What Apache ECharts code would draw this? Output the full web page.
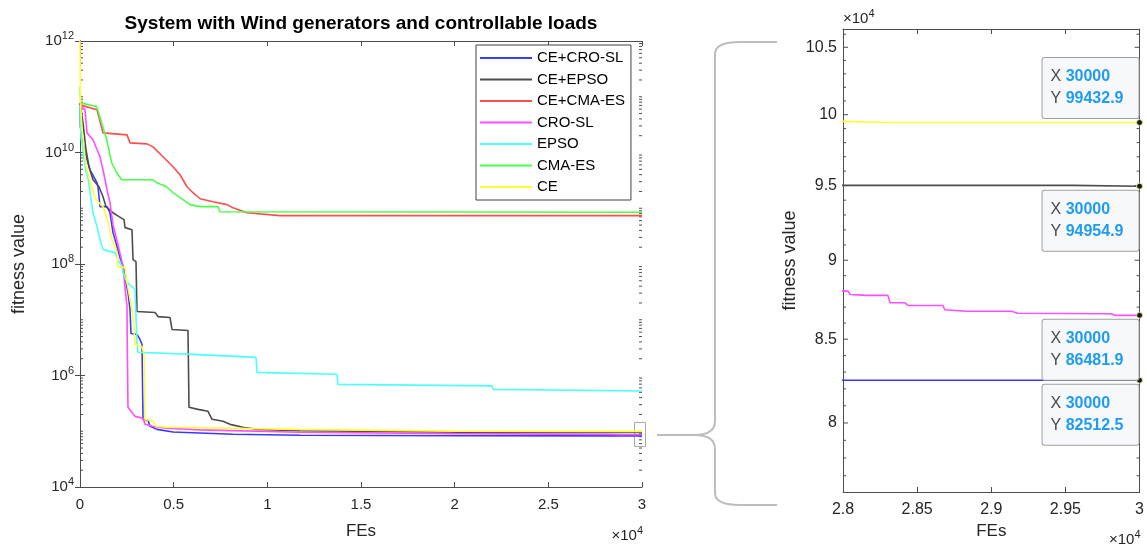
<!DOCTYPE html>
<html><head><meta charset="utf-8">
<script src="https://cdn.jsdelivr.net/npm/echarts@6/dist/echarts.min.js"></script>
<style>html,body{margin:0;padding:0;background:#fff}#c{width:1147px;height:545px}</style>
</head><body><div id="c"></div>
<script>
// ---------- data ----------
const seriesNames = ['CE+CRO-SL','CE+EPSO','CE+CMA-ES','CRO-SL','EPSO','CMA-ES','CE'];
const seriesColors = ['#3a3aff','#4d4d4d','#ff4d4d','#ff4dff','#4dffff','#4dff4d','#ffff33'];

const ceCroSl = [[0,7.5e10],[20,2.88e10],[267,9.9e9],[534,4.9e9],[907,2.87e9],[961,2.43e9],[1068,1.07e9],[1441,1.07e9],[1601,8.3e8],[1762,3.65e8],[1975,2.05e8],[2135,1.3e8],[2402,7.31e7],[2455,4.65e7],[2562,3.08e7],[2669,1.53e7],[2722,5.68e6],[3043,5.45e6],[3203,4.43e6],[3310,3.6e6],[3363,1.64e5],[3630,1.57e5],[3737,1.23e5],[4110,1.08e5],[4964,9.7e4],[8167,8.81e4],[11744,8.47e4],[20000,8.3e4],[28000,82512.5],[30000,82512.5]];
const ceEpso = [[0,7.76e10],[160,3.4e10],[320,1.12e10],[480,5.55e9],[694,3.24e9],[1014,2.43e9],[1228,1.61e9],[1388,1.07e9],[1762,8.3e8],[2082,7.06e8],[2349,6.24e8],[2402,4.49e8],[2776,4.13e8],[2829,1.2e8],[2989,1.1e8],[3043,1.41e7],[4004,1.35e7],[4164,1.14e7],[4804,1.1e7],[4911,6.7e6],[5765,6.4e6],[5818,2.69e5],[6299,2.47e5],[6833,2.28e5],[7046,1.64e5],[7633,1.51e5],[8007,1.33e5],[8701,1.18e5],[9448,1.08e5],[11744,1.02e5],[20000,96500],[28000,95010],[29550,95010],[29560,94954.9],[30000,94954.9]];
const ceCmaEs = [[0,7.15e10],[907,5.82e10],[1228,2.25e10],[2509,2.07e10],[2669,1.49e10],[3577,1.43e10],[3897,1.26e10],[4430,8.4e9],[4964,5.55e9],[5338,3.99e9],[5712,2.43e9],[6032,1.9e9],[6406,1.48e9],[7100,1.31e9],[7847,1.16e9],[8167,1.02e9],[8914,8.3e8],[10676,7.36e8],[30000,7.36e8]];
const croSl = [[0,7.15e10],[267,5.82e10],[374,2.25e10],[694,1.69e10],[1068,8.37e9],[1228,4.9e9],[1441,2.15e9],[1601,1.26e9],[1762,5.07e8],[2028,2.22e8],[2189,1.3e8],[2295,8.98e7],[2402,3.78e7],[2509,1.73e7],[2520,4.43e6],[2562,2.69e5],[2776,2.18e5],[2936,1.85e5],[3363,1.71e5],[3470,1.33e5],[3843,1.23e5],[4644,1.13e5],[6406,1.06e5],[11744,9.6e4],[20000,9.05e4],[28000,88010],[28034,88010],[28047,87800],[28160,87740],[28303,87740],[28317,87270],[28418,87270],[28438,87100],[28673,87100],[28687,86830],[28833,86740],[29136,86740],[29178,86610],[29809,86580],[29832,86481.9],[30000,86481.9]];
const epso = [[0,7.15e10],[53,1.91e10],[160,1.03e10],[320,4.51e9],[427,3.52e9],[534,1.9e9],[694,8.3e8],[907,4.68e8],[1068,2.74e8],[1228,1.81e8],[1868,1.6e8],[2028,1.2e8],[2242,8.98e7],[2295,7.02e7],[2509,4.65e7],[2776,3.94e7],[2936,3.48e7],[3043,3.92e6],[3096,2.59e6],[3310,2.59e6],[6032,2.39e6],[8381,2.2e6],[9395,2.11e6],[9448,1.14e6],[13719,1.05e6],[13772,6.93e5],[21993,6.52e5],[22046,5.64e5],[30000,5.26e5]];
const cmaEs = [[0,1.5e11],[40,7.76e10],[891,6.67e10],[1158,3.4e10],[1425,1.69e10],[1692,6.55e9],[1959,4.33e9],[2226,3.24e9],[3897,3.24e9],[4094,2.87e9],[4628,2.43e9],[4964,1.9e9],[5872,1.16e9],[6406,1.07e9],[7366,1.07e9],[7473,8.67e8],[30000,8.5e8]];
const ce = [[0,1e12],[20,8.8e10],[107,2.5e10],[320,5.78e9],[587,2.54e9],[854,1.42e9],[1228,1.07e9],[1495,5.74e8],[1708,2.74e8],[1975,1.6e8],[2028,8.98e7],[2402,8.6e7],[2509,4.65e7],[2776,1.53e7],[2883,6.7e6],[2936,3.6e6],[3310,3.3e6],[3416,2.39e6],[3470,1.64e5],[3897,1.51e5],[4057,1.23e5],[4644,1.18e5],[11744,1.08e5],[20000,1.005e5],[28000,99520],[28300,99440],[30000,99432.9]];

const allSeries = [ceCroSl, ceEpso, ceCmaEs, croSl, epso, cmaEs, ce];

// zoomed panel: which series appear, and data tips
const zoomSeriesIdx = [0, 1, 3, 6];
const tipFEs = 30000;
const tipValues = {0: 82512.5, 1: 94954.9, 3: 86481.9, 6: 99432.9};
const tipSide = {0: 'bottom', 1: 'bottom', 3: 'bottom', 6: 'top'};

// axis ticks
const mainXTickStep = 5000;
const zoomXTickStep = 500;
const zoomYTicks = [80000, 85000, 90000, 95000, 100000, 105000];
const zoomYMin = 76100, zoomYMax = 106400;

// ---------- chart ----------
const FONT = 'Liberation Sans, Arial, Helvetica, sans-serif';
const AX = '#4d4d4d';
const TXT = '#262626';

const chart = echarts.init(document.getElementById('c'), null, {renderer: 'canvas'});

const baseX = (grid, min, max, step, pos, showLabel, fs) => ({
  type: 'value', gridIndex: grid, min: min, max: max, interval: step, position: pos,
  axisLine: {show: true, lineStyle: {color: AX, width: 1}},
  axisTick: {show: true, inside: true, length: 5, lineStyle: {color: AX}},
  splitLine: {show: false},
  axisLabel: {show: showLabel, color: TXT, fontSize: fs, fontFamily: FONT, margin: 10,
    formatter: v => String(v / 10000)}
});

const option = {
  animation: false,
  textStyle: {fontFamily: FONT},
  grid: [
    {left: 80, top: 41, width: 562, height: 447, containLabel: false},
    {left: 843, top: 29, width: 297, height: 463, containLabel: false}
  ],
  legend: {
    data: seriesNames.map(n => ({name: n, icon: 'rect'})), orient: 'vertical', left: 476, top: 45,
    itemWidth: 52, itemHeight: 2, itemGap: 5.5,
    padding: [5, 6, 5, 4],
    backgroundColor: '#fff', borderColor: '#404040', borderWidth: 1,
    textStyle: {fontSize: 15, lineHeight: 16, color: '#000', fontFamily: FONT},
    selectedMode: false
  },
  xAxis: [
    Object.assign(baseX(0, 0, 30000, mainXTickStep, 'bottom', true, 15), {
      name: 'FEs', nameLocation: 'middle', nameGap: 36,
      nameTextStyle: {fontSize: 17, color: TXT, fontFamily: FONT}}),
    baseX(0, 0, 30000, mainXTickStep, 'top', false, 15),
    Object.assign(baseX(1, 28000, 30000, zoomXTickStep, 'bottom', true, 16), {
      name: 'FEs', nameLocation: 'middle', nameGap: 30,
      nameTextStyle: {fontSize: 17, color: TXT, fontFamily: FONT}}),
    baseX(1, 28000, 30000, zoomXTickStep, 'top', false, 16)
  ],
  yAxis: [
    {type: 'log', logBase: 100, gridIndex: 0, min: 1e4, max: 1e12, position: 'left',
     name: 'fitness value', nameLocation: 'middle', nameGap: 52,
     nameTextStyle: {fontSize: 18, color: TXT, fontFamily: FONT},
     axisLine: {show: true, lineStyle: {color: AX}},
     axisTick: {show: true, inside: true, length: 5, lineStyle: {color: AX}},
     splitLine: {show: false},
     axisLabel: {show: true, margin: 6, color: TXT,
       formatter: v => '{b|10}{s|' + Math.round(Math.log10(v)) + '}',
       rich: {b: {fontSize: 15, color: TXT, fontFamily: FONT},
              s: {fontSize: 11, color: TXT, fontFamily: FONT, padding: [0, 0, 10, 0]}}}},
    {type: 'log', logBase: 100, gridIndex: 0, min: 1e4, max: 1e12, position: 'right',
     axisLine: {show: true, lineStyle: {color: AX}},
     axisTick: {show: true, inside: true, length: 5, lineStyle: {color: AX}},
     splitLine: {show: false}, axisLabel: {show: false}},
    {type: 'log', gridIndex: 1, min: zoomYMin, max: zoomYMax, position: 'left',
     name: 'fitness value', nameLocation: 'middle', nameGap: 44,
     nameTextStyle: {fontSize: 18, color: TXT, fontFamily: FONT},
     axisLine: {show: true, lineStyle: {color: AX}},
     axisTick: {show: false}, splitLine: {show: false}, axisLabel: {show: false}},
    {type: 'log', gridIndex: 1, min: zoomYMin, max: zoomYMax, position: 'right',
     axisLine: {show: true, lineStyle: {color: AX}},
     axisTick: {show: false}, splitLine: {show: false}, axisLabel: {show: false}}
  ],
  series: []
};

allSeries.forEach((d, i) => {
  option.series.push({
    type: 'line', name: seriesNames[i], data: d, xAxisIndex: 0, yAxisIndex: 0,
    symbol: 'none', showSymbol: false, silent: true, clip: true,
    lineStyle: {color: seriesColors[i], width: 1.6}, itemStyle: {color: seriesColors[i]}
  });
});

zoomSeriesIdx.forEach(i => {
  const side = tipSide[i];
  option.series.push({
    type: 'line', name: seriesNames[i], data: allSeries[i], xAxisIndex: 2, yAxisIndex: 2,
    symbol: 'none', showSymbol: false, silent: true, clip: true,
    lineStyle: {color: seriesColors[i], width: 1.6}, itemStyle: {color: seriesColors[i]},
    markPoint: {
      silent: true, symbol: 'circle', symbolSize: 6,
      itemStyle: {color: '#1a1a1a', borderColor: '#e6e6a0', borderWidth: 1},
      label: {
        show: true, position: side, align: 'left', distance: 1, offset: [-97, 0],
        formatter: () => '{x|X }{v|' + tipFEs + '}\n{x|Y }{v|' + tipValues[i] + '}',
        backgroundColor: '#f7f8fc', borderColor: '#a0a0a0', borderWidth: 1, borderRadius: 2,
        padding: [8, 8, 8, 8], width: 80,
        rich: {
          x: {fontSize: 16, color: '#4a4a4a', fontFamily: FONT, lineHeight: 22},
          v: {fontSize: 16, fontWeight: 'bold', color: '#1f9cf0', fontFamily: FONT, lineHeight: 22}
        }
      },
      data: [{coord: [tipFEs, tipValues[i]]}]
    }
  });
});

chart.setOption(option);

// ---------- decorations computed from axes ----------
const px = (xi, v) => chart.convertToPixel({xAxisIndex: xi}, v);
const py = (yi, v) => chart.convertToPixel({yAxisIndex: yi}, v);
const g = [];
const tick = (x1, y, x2, col) => g.push({type: 'line', silent: true,
  shape: {x1: x1, y1: y, x2: x2, y2: y}, style: {stroke: col || AX, lineWidth: 1}});

// left panel minor log ticks
const lx0 = px(0, 0), lx1 = px(0, 30000);
for (let n = 4; n < 12; n++) {
  for (let k = 1; k <= 9; k++) {
    if (k === 1 && n % 2 === 0) continue;
    const y = py(0, k * Math.pow(10, n));
    tick(lx0, y, lx0 + 3); tick(lx1, y, lx1 - 3);
  }
}
// right panel ticks and labels
const rx0 = px(2, 28000), rx1 = px(2, 30000);
for (let v = 77000; v <= 106000; v += 1000) {
  if (v % 5000 === 0) continue;
  const y = py(2, v);
  tick(rx0, y, rx0 + 3); tick(rx1, y, rx1 - 3);
}
zoomYTicks.forEach(v => {
  const y = py(2, v);
  tick(rx0, y, rx0 + 5); tick(rx1, y, rx1 - 5);
  g.push({type: 'text', silent: true, x: rx0 - 6, y: y,
    style: {text: String(v / 10000), fill: TXT, font: '16px ' + FONT, align: 'right', verticalAlign: 'middle'}});
});

const expLabel = (x, y, align) => ({type: 'text', silent: true, x: x, y: y,
  style: {text: '{b|\u00d710}{s|4}', align: align, verticalAlign: 'middle',
    rich: {b: {fontSize: 15, fill: TXT, fontFamily: FONT},
           s: {fontSize: 11, fill: TXT, fontFamily: FONT, padding: [0, 0, 10, 0]}}}});
g.push(expLabel(lx1 + 1, 536, 'right'));
g.push(expLabel(rx1 + 1, 540, 'right'));
g.push(expLabel(rx0, 19, 'left'));

// title
g.push({type: 'text', silent: true, x: (lx0 + lx1) / 2, y: 24,
  style: {text: 'System with Wind generators and controllable loads', fill: '#000',
    font: 'bold 19px ' + FONT, align: 'center', verticalAlign: 'middle'}});

// zoom box and brace (annotation)
const BR = {fill: null, stroke: '#bdbdbd', lineWidth: 2};
g.push({type: 'rect', silent: true, shape: {x: 634.5, y: 422.5, width: 11, height: 24},
  style: {fill: null, stroke: '#a8a8a8', lineWidth: 1}});
const seg = (x1, y1, x2, y2) => g.push({type: 'line', silent: true, shape: {x1, y1, x2, y2}, style: BR});
const bez = (x1, y1, cpx1, cpy1, cpx2, cpy2, x2, y2) => g.push({type: 'bezierCurve', silent: true,
  shape: {x1, y1, cpx1, cpy1, cpx2, cpy2, x2, y2}, style: BR});
seg(657, 435, 694, 435);
bez(694, 435, 707, 435, 715, 431, 715, 421);
seg(715, 421, 715, 54);
bez(715, 54, 715, 46, 722, 42, 740, 42);
seg(740, 42, 777, 42);
bez(694, 435, 707, 435, 715, 439, 715, 449);
seg(715, 449, 715, 493);
bez(715, 493, 715, 501, 722, 505, 740, 505);
seg(740, 505, 777, 505);

chart.setOption({graphic: {elements: g}});
</script></body></html>
